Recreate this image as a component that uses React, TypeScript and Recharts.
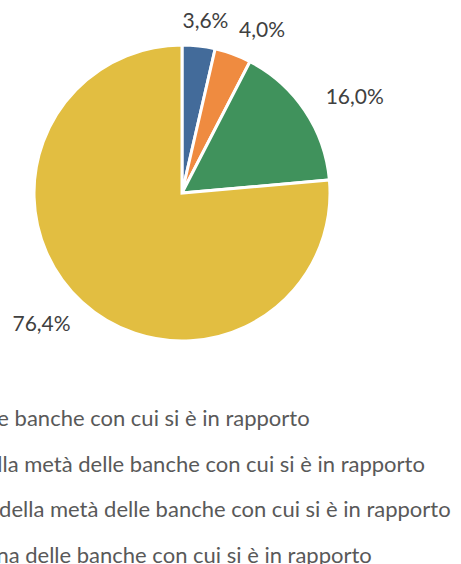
import React from "react";
import { PieChart, Pie, Cell, Legend } from "recharts";

const categories = [
  "Tutte le banche con cui si è in rapporto",
  "Più della metà delle banche con cui si è in rapporto",
  "Meno della metà delle banche con cui si è in rapporto",
  "Nessuna delle banche con cui si è in rapporto",
];
const values = [3.6, 4.0, 16.0, 76.4];
const colors = ["#436B9A", "#EF8B40", "#40925C", "#E2BE41"];

const data = categories.map((name, i) => ({ name, value: values[i] }));

const FONT = "Lato, 'Open Sans', sans-serif";
const RAD = Math.PI / 180;
const LABEL_SIZE = 21;
const CX = 182;
const CY = 193;
const R = 148;

const fmt = (v: number) => v.toFixed(1).replace(".", ",") + "%";

// label layout: elliptical placement around the pie, then a simple
// left-to-right collision nudge between consecutive labels
const labelLayout = (() => {
  const total = values.reduce((a, b) => a + b, 0);
  let acc = 0;
  const out: { x: number; y: number; w: number }[] = [];
  values.forEach((v, i) => {
    const mid = ((acc + v / 2) / total) * 360; // clockwise from top
    acc += v;
    const s = Math.sin(mid * RAD);
    const c = Math.cos(mid * RAD);
    let x = CX + (R + 60) * s;
    const y = CY - (R + 27) * c;
    const w = fmt(v).length * LABEL_SIZE * 0.53;
    if (i > 0) {
      const p = out[i - 1];
      const vertOverlap = Math.abs(p.y - y) < LABEL_SIZE;
      const minX = p.x + p.w / 2 + 12 + w / 2;
      if (vertOverlap && x < minX && x > p.x) x = minX;
    }
    out.push({ x, y, w });
  });
  return out;
})();

const renderLabel = (props: any) => {
  const { index, value } = props;
  const pos = labelLayout[index];
  return (
    <text
      x={pos.x}
      y={pos.y}
      textAnchor="middle"
      dominantBaseline="central"
      fill="#404040"
      fontSize={LABEL_SIZE}
      fontFamily={FONT}
    >
      {fmt(value)}
    </text>
  );
};

const renderLegend = () => {
  return (
    <div style={{ fontFamily: FONT, fontSize: 22, color: "#595959" }}>
      {categories.map((name, i) => (
        <div
          key={name}
          style={{ height: 45.7, lineHeight: "45.7px", whiteSpace: "nowrap", display: "flex", alignItems: "center" }}
        >
          <span
            style={{ display: "inline-block", width: 10, height: 10, background: colors[i], marginRight: 6 }}
          />
          <span>{name}</span>
        </div>
      ))}
    </div>
  );
};

export default function App() {
  return (
    <div style={{ position: "absolute", left: 0, top: 0, width: 461, height: 564, overflow: "hidden", background: "#fff" }}>
      <PieChart width={461} height={564} margin={{ top: 0, right: 0, bottom: 0, left: 0 }}>
        <Pie
          data={data}
          dataKey="value"
          nameKey="name"
          cx={CX}
          cy={CY}
          outerRadius={R}
          startAngle={90}
          endAngle={-270}
          stroke="#ffffff"
          strokeWidth={3}
          label={renderLabel}
          labelLine={false}
          isAnimationActive={false}
        >
          {data.map((d, i) => (
            <Cell key={d.name} fill={colors[i]} />
          ))}
        </Pie>
        <Legend
          content={renderLegend}
          layout="vertical"
          wrapperStyle={{ position: "absolute", left: -79, top: 395, width: 700 }}
        />
      </PieChart>
    </div>
  );
}
